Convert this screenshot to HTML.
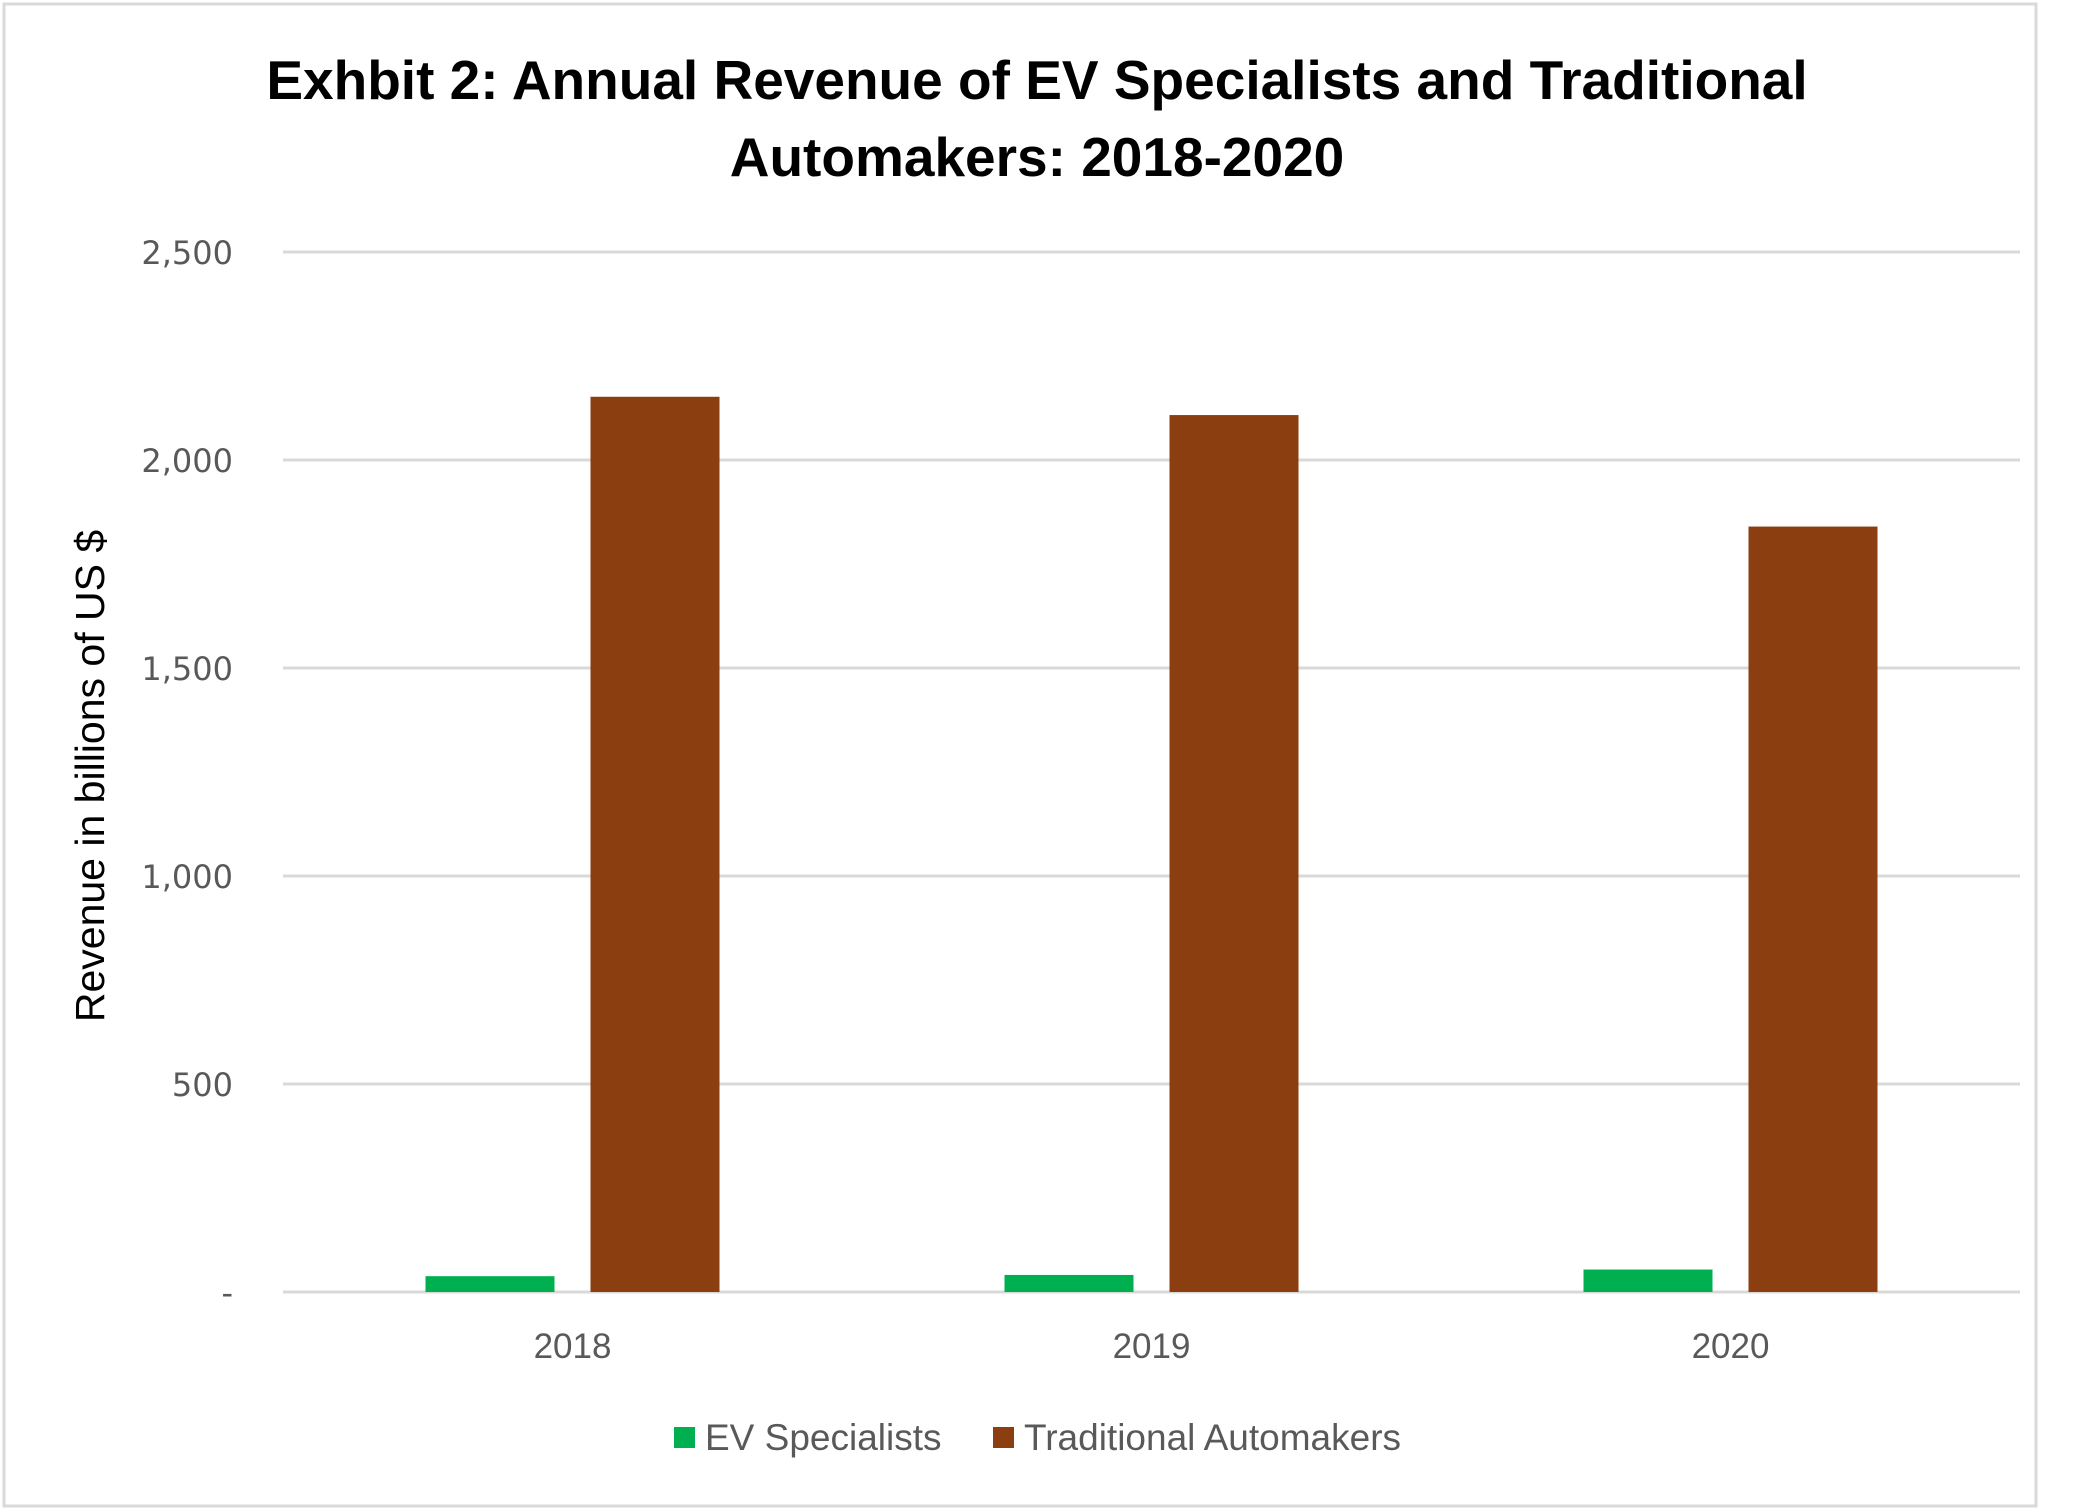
<!DOCTYPE html>
<html><head><meta charset="utf-8"><style>
body{margin:0;background:#fff}
svg{display:block}
</style></head><body>
<svg id="chart" width="2076" height="1512" viewBox="0 0 2076 1512" xmlns="http://www.w3.org/2000/svg">
<rect x="4" y="4" width="2032" height="1502" fill="#fff" stroke="#d9d9d9" stroke-width="3"/>
<text font-family="Liberation Sans, sans-serif" font-weight="bold" font-size="55" text-anchor="middle" fill="#000"><tspan x="1037" y="99">Exhbit 2: Annual Revenue of EV Specialists and Traditional</tspan><tspan x="1037" y="176">Automakers: 2018-2020</tspan></text>
<text transform="translate(104,776) rotate(-90)" font-family="Liberation Sans, sans-serif" font-size="41" text-anchor="middle" fill="#000">Revenue in billions of US $</text>
<g id="grid"></g><g id="bars"></g><g id="xlabels"></g>
<g font-family="Liberation Sans, sans-serif" font-size="37" fill="#595959">
<rect x="674" y="1427" width="21" height="21" fill="#00b050"/>
<text x="705" y="1450">EV Specialists</text>
<rect x="993" y="1427" width="21" height="21" fill="#8b3e0f"/>
<text x="1024" y="1450">Traditional Automakers</text>
</g>
</svg>
<script>
const categories = ["2018","2019","2020"];
const evValues = [38, 41, 54];
const tradValues = [2152, 2108, 1840];
const yTicks = [0, 500, 1000, 1500, 2000, 2500];
const yTickLabels = ["-", "500", "1,000", "1,500", "2,000", "2,500"];
const NS="http://www.w3.org/2000/svg";
const x0=283,x1=2020,yTop=252,yBot=1292,yMax=2500;
const y=v=>yBot-(v/yMax)*(yBot-yTop);
const bandW=(x1-x0)/categories.length;
function mk(tag,attrs,parent){const e=document.createElementNS(NS,tag);for(const k in attrs)e.setAttribute(k,attrs[k]);parent.appendChild(e);return e;}
const grid=document.getElementById('grid');
yTicks.forEach((t,i)=>{
  const l=mk('line',{x1:x0,x2:x1,y1:y(t),y2:y(t),stroke:'#d9d9d9','stroke-width':3},grid);
  
  
  const tx=mk('text',{x:233,y:y(t)+12,'text-anchor':'end','font-family':'DejaVu Sans, sans-serif','font-size':32,fill:'#595959'},grid);
  
  
  tx.textContent=yTickLabels[i];
});
const bars=document.getElementById('bars'),xl=document.getElementById('xlabels');
const bw=129,gap=36;
categories.forEach((c,i)=>{
  const cx=x0+bandW*(i+0.5);
  const g=mk('rect',{x:cx-gap/2-bw,y:y(evValues[i]),width:bw,height:yBot-y(evValues[i]),fill:'#00b050'},bars);
  
  
  const b=mk('rect',{x:cx+gap/2,y:y(tradValues[i]),width:bw,height:yBot-y(tradValues[i]),fill:'#8b3e0f'},bars);
  
  
  const t=mk('text',{x:cx,y:1358,'text-anchor':'middle','font-family':'Liberation Sans, sans-serif','font-size':35,fill:'#595959'},xl);
  
  
  t.textContent=c;
});
</script>
</body></html>
